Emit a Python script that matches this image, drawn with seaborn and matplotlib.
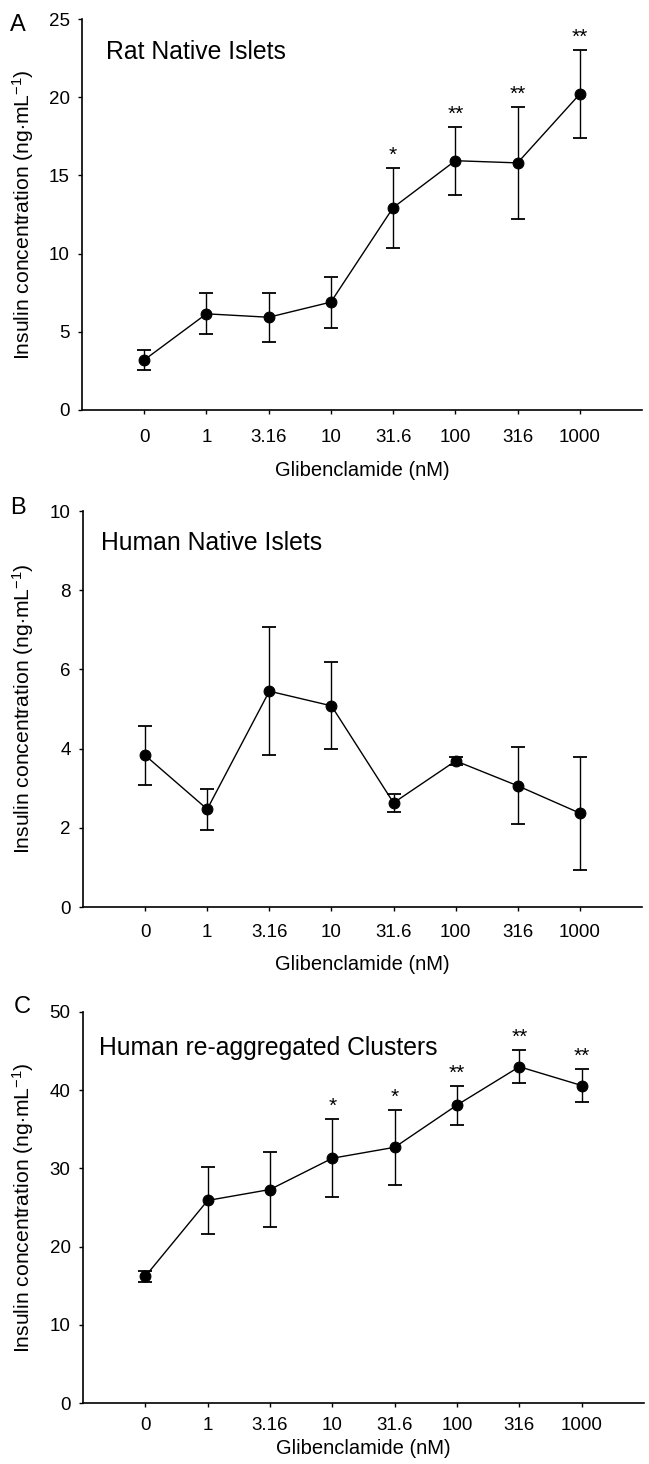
import numpy as np
import pandas as pd
import matplotlib
matplotlib.use("Agg")
import matplotlib.pyplot as plt
import seaborn as sns

sns.set_style("ticks")
plt.rcParams['font.family'] = ['Liberation Sans', 'DejaVu Sans']
plt.rcParams['mathtext.fontset'] = 'custom'
plt.rcParams['mathtext.rm'] = 'Liberation Sans'
plt.rcParams['mathtext.it'] = 'Liberation Sans'
plt.rcParams['text.color'] = 'black'
plt.rcParams['axes.labelcolor'] = 'black'
plt.rcParams['xtick.color'] = 'black'
plt.rcParams['ytick.color'] = 'black'

# ---- data ----
doses = ["0", "1", "3.16", "10", "31.6", "100", "316", "1000"]

rat_mean = [3.2, 6.15, 5.93, 6.9, 12.94, 15.94, 15.8, 20.2]
rat_err = [0.64, 1.3, 1.57, 1.63, 2.55, 2.17, 3.57, 2.83]
rat_stars = ["", "", "", "", "*", "**", "**", "**"]

hum_mean = [3.83, 2.47, 5.45, 5.08, 2.63, 3.69, 3.06, 2.37]
hum_err = [0.75, 0.52, 1.61, 1.1, 0.22, 0.11, 0.97, 1.43]
hum_stars = ["", "", "", "", "", "", "", ""]

clu_mean = [16.2, 25.9, 27.3, 31.3, 32.7, 38.1, 43.0, 40.6]
clu_err = [0.7, 4.3, 4.85, 5.0, 4.8, 2.5, 2.1, 2.15]
clu_stars = ["", "", "", "*", "*", "**", "**", "**"]

panel_letters = ["A", "B", "C"]
panel_titles = ["Rat Native Islets", "Human Native Islets", "Human re-aggregated Clusters"]
y_limits = [25, 10, 50]
y_steps = [5, 2, 10]

xlabel = "Glibenclamide (nM)"
ylabel = r"Insulin concentration (ng$\cdot$mL$^{-1}$)"

W, H = 649, 1464
fig = plt.figure(figsize=(W / 100, H / 100), dpi=100)

# axes boxes in pixels: left, right, top, bottom
boxes = [(82, 642, 19, 410), (83, 642, 511, 907), (83, 644, 1012, 1403)]
tick_pads = [11, 9, 7]
xlabel_off = [60, 58, 45]  # px below axis
title_pos = [(106, 52), (101, 543), (99, 1048)]
letter_pos = [(18, 25), (18, 508), (22, 1007)]

series = [(rat_mean, rat_err, rat_stars), (hum_mean, hum_err, hum_stars), (clu_mean, clu_err, clu_stars)]

for k, (mean, err, stars) in enumerate(series):
    l, r, t, b = boxes[k]
    ax = fig.add_axes([l / W, 1 - b / H, (r - l) / W, (b - t) / H])
    df = pd.DataFrame({"dose": doses, "mean": mean, "err": err})
    pos = np.arange(len(doses))
    ax.errorbar(pos, df["mean"], yerr=df["err"], fmt="none", ecolor="black",
                elinewidth=1.0, capsize=4.8, capthick=1.3, zorder=2)
    sns.pointplot(data=df, x="dose", y="mean", order=doses, color="black",
                  markers="o", markersize=7.8, linewidth=1.0, errorbar=None, ax=ax)
    for i, s in enumerate(stars):
        if s:
            ax.annotate(s, xy=(i, mean[i] + err[i]), xytext=(0, 9),
                        textcoords="offset points", ha="center", va="center",
                        fontsize=15, color="black")
    ax.set_xlim(-1.0, 8.0)
    ax.set_ylim(0, y_limits[k])
    ax.set_yticks(np.arange(0, y_limits[k] + 0.01, y_steps[k]))
    ax.set_xticks(pos)
    ax.set_xticklabels(doses)
    sns.despine(ax=ax)
    for sp in ["left", "bottom"]:
        ax.spines[sp].set_linewidth(1.2)
        ax.spines[sp].set_color("black")
    ax.tick_params(axis="both", direction="out", length=3, width=1.0, colors="black",
                   labelsize=13.5)
    ax.tick_params(axis="y", pad=6)
    ax.tick_params(axis="x", pad=tick_pads[k])
    ax.set_xlabel(xlabel, fontsize=14.5)
    ax.set_ylabel(ylabel, fontsize=15.2)
    ax.xaxis.set_label_coords(0.5, -xlabel_off[k] / (b - t))
    ax.xaxis.label.set_va("center")
    ax.yaxis.set_label_coords((23 - l) / (r - l), 0.5)
    ax.yaxis.label.set_va("center")
    tx, ty = title_pos[k]
    fig.text(tx / W, 1 - ty / H, panel_titles[k], fontsize=17.8, ha="left", va="center")
    lx, ly = letter_pos[k]
    fig.text(lx / W, 1 - ly / H, panel_letters[k], fontsize=17, ha="center", va="center")
    ax.set_facecolor("white")

fig.savefig("out.png", dpi=100, facecolor="white")
